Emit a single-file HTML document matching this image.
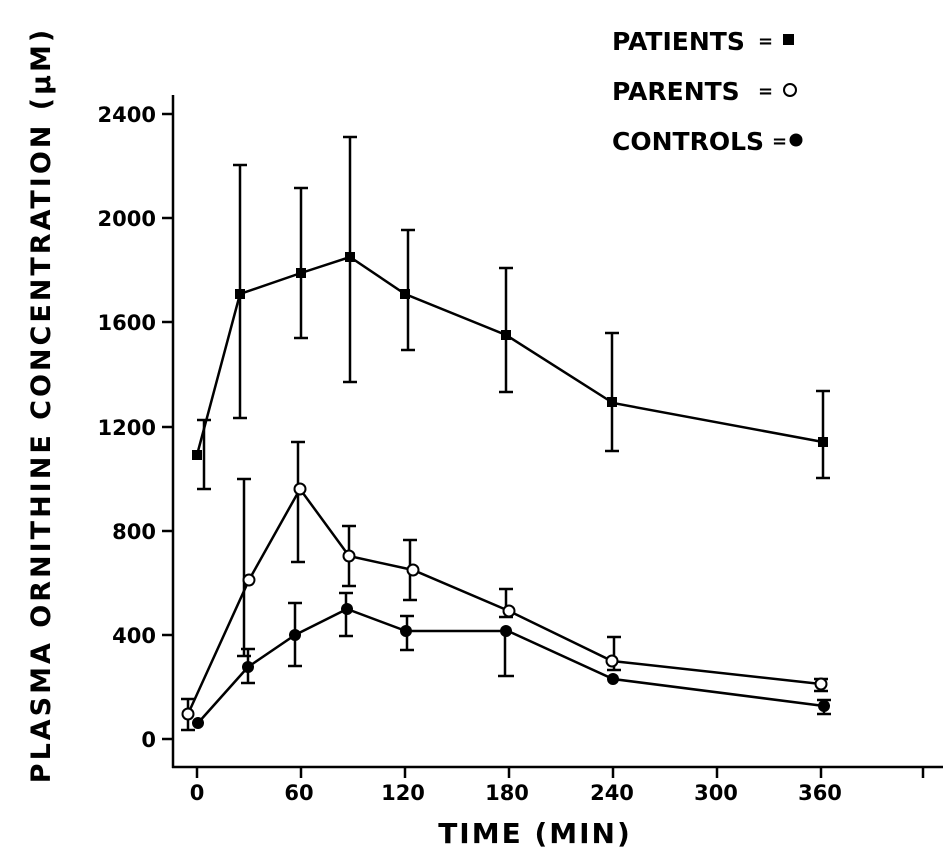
<!DOCTYPE html><html><head><style>body{margin:0;background:#fff}svg{display:block}text{font-family:"DejaVu Sans","Liberation Sans",sans-serif;font-weight:bold;fill:#000}</style></head><body>
<svg width="943" height="863" viewBox="0 0 943 863" xmlns="http://www.w3.org/2000/svg">
<g stroke="#000" stroke-width="2.5" fill="none">
<line x1="173" y1="95" x2="173" y2="768"/><line x1="172" y1="767" x2="943" y2="767"/>
<line x1="162" y1="114" x2="173" y2="114"/><line x1="162" y1="218" x2="173" y2="218"/><line x1="162" y1="322" x2="173" y2="322"/><line x1="162" y1="427" x2="173" y2="427"/><line x1="162" y1="531" x2="173" y2="531"/><line x1="162" y1="635" x2="173" y2="635"/><line x1="162" y1="739" x2="173" y2="739"/>
<line x1="197" y1="767" x2="197" y2="778"/><line x1="301" y1="767" x2="301" y2="778"/><line x1="405" y1="767" x2="405" y2="778"/><line x1="509" y1="767" x2="509" y2="778"/><line x1="613" y1="767" x2="613" y2="778"/><line x1="717" y1="767" x2="717" y2="778"/><line x1="821" y1="767" x2="821" y2="778"/><line x1="923" y1="767" x2="923" y2="778"/>
</g>
<g font-size="21" text-anchor="end"><text x="156" y="122">2400</text><text x="156" y="226">2000</text><text x="156" y="330">1600</text><text x="156" y="435">1200</text><text x="156" y="539">800</text><text x="156" y="643">400</text><text x="156" y="747">0</text></g>
<g font-size="21" text-anchor="middle"><text x="197" y="800">0</text><text x="299" y="800">60</text><text x="403" y="800">120</text><text x="507" y="800">180</text><text x="612" y="800">240</text><text x="716" y="800">300</text><text x="820" y="800">360</text></g>
<text x="535" y="843" font-size="28" text-anchor="middle" letter-spacing="2">TIME  (MIN)</text>
<text transform="translate(50,405) rotate(-90)" font-size="27" text-anchor="middle" letter-spacing="3">PLASMA  ORNITHINE  CONCENTRATION  (μM)</text>
<g font-size="25"><text x="612" y="50">PATIENTS</text><text x="612" y="100">PARENTS</text><text x="612" y="150">CONTROLS</text></g>
<g font-size="18"><text x="758" y="47">=</text><text x="758" y="97">=</text><text x="772" y="147">=</text></g>
<rect x="783" y="34" width="11" height="11" fill="#000"/><circle cx="790" cy="90" r="6" fill="none" stroke="#000" stroke-width="2"/><circle cx="796" cy="140" r="6.5" fill="#000"/>
<g stroke="#000" stroke-width="2.5" fill="none">
<polyline points="197,455 240,294 301,273 350,257 405,294 506,335 613,403 823,442"/>
<path d="M204,489V420 M197,489h14 M197,420h14 M240,418V165 M233,418h14 M233,165h14 M301,338V188 M294,338h14 M294,188h14 M350,382V137 M343,382h14 M343,137h14 M408,350V230 M401,350h14 M401,230h14 M506,392V268 M499,392h14 M499,268h14 M612,451V333 M605,451h14 M605,333h14 M823,478V391 M816,478h14 M816,391h14"/>
<polyline points="188,714 249,580 300,489 349,556 413,570 509,611 612,661 821,684"/>
<path d="M188,730V699 M181,730h14 M181,699h14 M244,656V479 M237,656h14 M237,479h14 M298,562V442 M291,562h14 M291,442h14 M349,586V526 M342,586h14 M342,526h14 M410,600V540 M403,600h14 M403,540h14 M506,617V589 M499,617h14 M499,589h14 M614,670V637 M607,670h14 M607,637h14 M821,691V679 M814,691h14 M814,679h14"/>
<polyline points="198,723 248,667 295,635 347,609 406,631 508,631 613,679 824,706"/>
<path d="M248,683V649 M241,683h14 M241,649h14 M295,666V603 M288,666h14 M288,603h14 M346,636V593 M339,636h14 M339,593h14 M407,650V616 M400,650h14 M400,616h14 M505,676V631 M498,676h16 M824,714V700 M817,714h14 M817,700h14"/>
</g>
<g fill="#000"><rect x="192" y="450" width="10" height="10"/><rect x="235" y="289" width="10" height="10"/><rect x="296" y="268" width="10" height="10"/><rect x="345" y="252" width="10" height="10"/><rect x="400" y="289" width="10" height="10"/><rect x="501" y="330" width="10" height="10"/><rect x="607" y="397" width="10" height="10"/><rect x="818" y="437" width="10" height="10"/>
<circle cx="198" cy="723" r="6"/><circle cx="248" cy="667" r="6"/><circle cx="295" cy="635" r="6"/><circle cx="347" cy="609" r="6"/><circle cx="406" cy="631" r="6"/><circle cx="506" cy="631" r="6"/><circle cx="613" cy="679" r="6"/><circle cx="824" cy="706" r="6"/></g>
<g fill="#fff" stroke="#000" stroke-width="2"><circle cx="188" cy="714" r="5.5"/><circle cx="249" cy="580" r="5.5"/><circle cx="300" cy="489" r="5.5"/><circle cx="349" cy="556" r="5.5"/><circle cx="413" cy="570" r="5.5"/><circle cx="509" cy="611" r="5.5"/><circle cx="612" cy="661" r="5.5"/><circle cx="821" cy="684" r="5.5"/></g>
</svg></body></html>
